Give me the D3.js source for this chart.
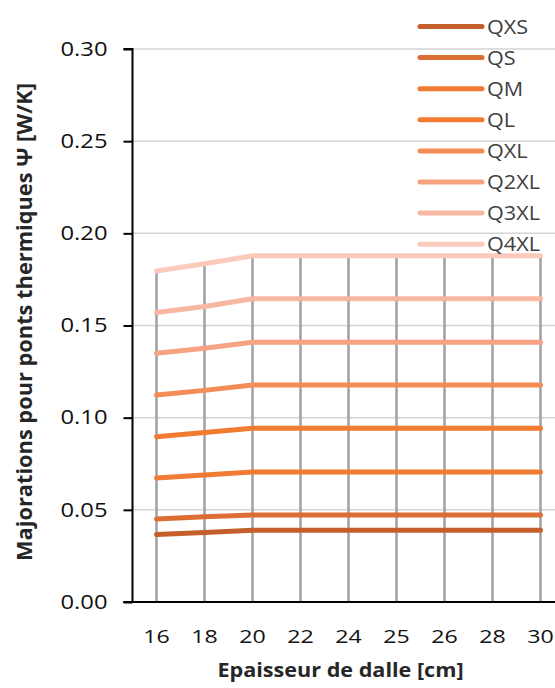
<!DOCTYPE html>
<html><head><meta charset="utf-8">
<script src="https://cdn.jsdelivr.net/npm/d3@7"></script>
<style>body{margin:0;background:#fff}svg{display:block}</style>
</head><body>
<script>
const categories = ["16","18","20","22","24","25","26","28","30"];
const seriesNames = ["QXS","QS","QM","QL","QXL","Q2XL","Q3XL","Q4XL"];
const QXS  = [0.0366,0.0377,0.0389,0.0389,0.0389,0.0389,0.0389,0.0389,0.0389];
const QS   = [0.0450,0.0462,0.0472,0.0472,0.0472,0.0472,0.0472,0.0472,0.0472];
const QM   = [0.0673,0.0689,0.0705,0.0705,0.0705,0.0705,0.0705,0.0705,0.0705];
const QL   = [0.0897,0.0920,0.0942,0.0942,0.0942,0.0942,0.0942,0.0942,0.0942];
const QXL  = [0.1123,0.1148,0.1177,0.1177,0.1177,0.1177,0.1177,0.1177,0.1177];
const Q2XL = [0.1350,0.1377,0.1409,0.1409,0.1409,0.1409,0.1409,0.1409,0.1409];
const Q3XL = [0.1570,0.1603,0.1645,0.1645,0.1645,0.1645,0.1645,0.1645,0.1645];
const Q4XL = [0.1796,0.1835,0.1878,0.1878,0.1878,0.1878,0.1878,0.1878,0.1878];
const yTicks = [0,0.05,0.10,0.15,0.20,0.25,0.30];
const colors = ["#c45f2c","#dc6d33","#f07b35","#f27b30","#f48c55","#f7a283","#f8b7a0","#fbcabb"];
const seriesValues = [QXS,QS,QM,QL,QXL,Q2XL,Q3XL,Q4XL];

const W=555,H=688;
const svg=d3.select("body").append("svg").attr("width",W).attr("height",H);
const mLeft=132.5, mRight=564.5, mTop=49, mBottom=602;
const x=d3.scaleBand().domain(categories).range([mLeft,mRight]);
const xc=c=>x(c)+x.bandwidth()/2;
const y=d3.scaleLinear().domain([0,0.30]).range([mBottom,mTop]);

function stretch(sel,sx){
  sel.each(function(){
    const w=this.getComputedTextLength();
    d3.select(this).attr("textLength",w*sx).attr("lengthAdjust","spacingAndGlyphs");
  });
}

// gridlines
svg.append("g").selectAll("line").data(yTicks.slice(1)).join("line")
  .attr("x1",mLeft).attr("x2",W).attr("y1",d=>y(d)).attr("y2",d=>y(d))
  .attr("stroke","#d4d4d4").attr("stroke-width",1.5);

// drop lines
const maxVals=categories.map((c,i)=>d3.max(seriesValues,s=>s[i]));
svg.append("g").selectAll("line").data(categories).join("line")
  .attr("x1",d=>xc(d)).attr("x2",d=>xc(d))
  .attr("y1",(d,i)=>y(maxVals[i])).attr("y2",y(0))
  .attr("stroke","#a0a0a0").attr("stroke-width",2.5);

// series lines
const line=d3.line().x((d,i)=>xc(categories[i])).y(d=>y(d));
svg.append("g").selectAll("path").data(seriesValues).join("path")
  .attr("d",d=>line(d)).attr("fill","none")
  .attr("stroke",(d,i)=>colors[i]).attr("stroke-width",5)
  .attr("stroke-linecap","round").attr("stroke-linejoin","round");

// y axis
const yAxis=d3.axisLeft(y).tickValues(yTicks).tickFormat(d3.format(".2f")).tickSize(9).tickPadding(16);
const gy=svg.append("g").attr("transform",`translate(${mLeft},0)`).call(yAxis);
gy.select(".domain").attr("stroke","#000").attr("stroke-width",2).attr("d",`M-9,${mTop}H0V${mBottom}H-9`);
gy.selectAll(".tick line").attr("stroke","#000").attr("stroke-width",2);
gy.selectAll(".tick text").attr("font-family","Open Sans").attr("font-size",19.5).attr("fill","#111");
stretch(gy.selectAll(".tick text"),1.22);

// x axis
const xAxis=d3.axisBottom(x).tickSize(0).tickPadding(28);
const gx=svg.append("g").attr("transform",`translate(0,${mBottom})`).call(xAxis);
gx.select(".domain").attr("stroke","#000").attr("stroke-width",2).attr("d",`M${mLeft-9},0H${W}`);
gx.selectAll(".tick text").attr("font-family","Open Sans").attr("font-size",19).attr("fill","#111");
stretch(gx.selectAll(".tick text"),1.22);

// titles
const xt=svg.append("text").attr("x",340.5).attr("y",676.5).attr("text-anchor","middle")
  .attr("font-family","Open Sans").attr("font-weight","bold").attr("font-size",20).attr("fill","#262626")
  .text("Epaisseur de dalle [cm]");
stretch(xt,1.08);
svg.append("text").attr("transform","translate(31.5,322) rotate(-90)").attr("text-anchor","middle")
  .attr("font-family","Open Sans").attr("font-weight","bold").attr("font-size",21.8).attr("fill","#262626")
  .text("Majorations pour ponts thermiques Ψ [W/K]");

// legend
const lg=svg.append("g").selectAll("g").data(seriesNames).join("g")
  .attr("transform",(d,i)=>`translate(0,${26.5+i*31.1})`);
lg.append("line").attr("x1",420).attr("x2",482).attr("y1",0).attr("y2",0)
  .attr("stroke",(d,i)=>colors[i]).attr("stroke-width",5).attr("stroke-linecap","round");
const lt=lg.append("text").attr("x",487).attr("y",0).attr("dy","0.36em")
  .attr("font-family","Open Sans").attr("font-size",20).attr("fill","#404040").text(d=>d);
stretch(lt,1.08);
</script>
</body></html>
